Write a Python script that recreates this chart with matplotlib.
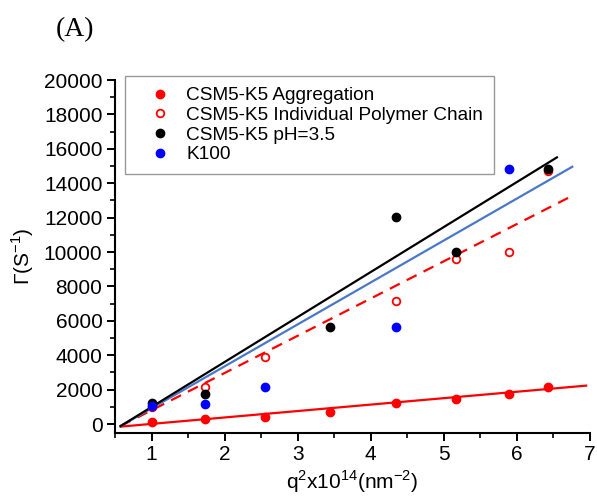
import numpy as np
import matplotlib
matplotlib.use("Agg")
import matplotlib.pyplot as plt
from matplotlib.ticker import MultipleLocator

plt.rcParams['font.family'] = ['Liberation Sans', 'DejaVu Sans']
plt.rcParams['mathtext.fontset'] = 'custom'
plt.rcParams['mathtext.rm'] = 'Liberation Sans'

# q^2 x 10^14 (nm^-2)
q2 = [1.01, 1.73, 2.56, 3.45, 4.34, 5.17, 5.89, 6.43]

# decay rates Gamma (s^-1); NaN where a sample has no measurement
agg = [120, 290, 390, 680, 1200, 1450, 1760, 2130]
single_chain = [1000, 2150, 3870, np.nan, 7150, 9570, 10020, 14700]
ph35 = [1240, 1740, np.nan, 5620, 12050, 10020, np.nan, 14830]
k100 = [1065, 1180, 2130, np.nan, 5620, np.nan, 14830, np.nan]

# linear fits: slope, intercept, x range
fit_agg = (374.0, -366.0, 0.577, 6.95)
fit_chain = (2165.0, -1365.0, 0.577, 6.76)
fit_ph35 = (2615.0, -1625.0, 0.577, 6.55)
fit_k100 = (2438.0, -1523.0, 0.577, 6.76)

labels = ["CSM5-K5 Aggregation", "CSM5-K5 Individual Polymer Chain",
          "CSM5-K5 pH=3.5", "K100"]

fig = plt.figure(figsize=(5.97, 4.97), dpi=100)
ax = fig.add_axes([0.1926, 0.1288, 0.7954, 0.7102])


def fit_line(fit, **kw):
    m, b, x0, x1 = fit
    xs = np.array([x0, x1])
    ax.plot(xs, m * xs + b, **kw)


fit_line(fit_agg, color='#ff0000', lw=1.6, zorder=2)
fit_line(fit_chain, color='#ff0000', lw=1.6, ls=(0, (5, 3.5)), zorder=2)
fit_line(fit_k100, color='#4a78c8', lw=1.6, zorder=2)
fit_line(fit_ph35, color='#000000', lw=1.6, zorder=2)

ms = 6
ax.plot(q2, agg, 'o', color='#ff0000', ms=ms, mec='#ff0000', label=labels[0], zorder=3)
ax.plot(q2, single_chain, 'o', mfc='white', mec='#ff0000', mew=1.3, ms=ms - 0.5,
        label=labels[1], zorder=3)
ax.plot(q2, ph35, 'o', color='#000000', ms=ms, label=labels[2], zorder=4)
ax.plot(q2, k100, 'o', color='#0000ff', ms=ms, label=labels[3], zorder=4)

ax.set_xlim(0.5, 7)
ax.set_ylim(-520, 20000)
ax.xaxis.set_major_locator(MultipleLocator(1))
ax.xaxis.set_minor_locator(MultipleLocator(0.5))
ax.yaxis.set_major_locator(MultipleLocator(2000))
ax.yaxis.set_minor_locator(MultipleLocator(1000))
ax.set_xticks([1, 2, 3, 4, 5, 6, 7])

for s in ['top', 'right']:
    ax.spines[s].set_visible(False)
for s in ['left', 'bottom']:
    ax.spines[s].set_linewidth(1.5)

ax.tick_params(which='major', direction='out', length=6, width=1.4, labelsize=15, pad=3)
ax.tick_params(which='minor', direction='out', length=3.5, width=1.2)

ax.set_xlabel(r'q$^{2}$x10$^{14}$(nm$^{-2}$)', fontsize=15, labelpad=3)
ax.set_ylabel(r'$\Gamma$(S$^{-1}$)', fontsize=15, labelpad=6)

leg = ax.legend(loc='upper left', bbox_to_anchor=(0.021, 1.011), fontsize=13.7,
                frameon=True, fancybox=False, edgecolor='#808080',
                handletextpad=0.15, borderpad=0.58, labelspacing=0.12,
                handlelength=2.5, markerscale=1.0, borderaxespad=0.0)
leg.get_frame().set_linewidth(1.0)

fig.text(0.125, 0.94, '(A)', fontsize=20, family='Liberation Serif',
         ha='center', va='center')

fig.savefig('out.png', dpi=100)
